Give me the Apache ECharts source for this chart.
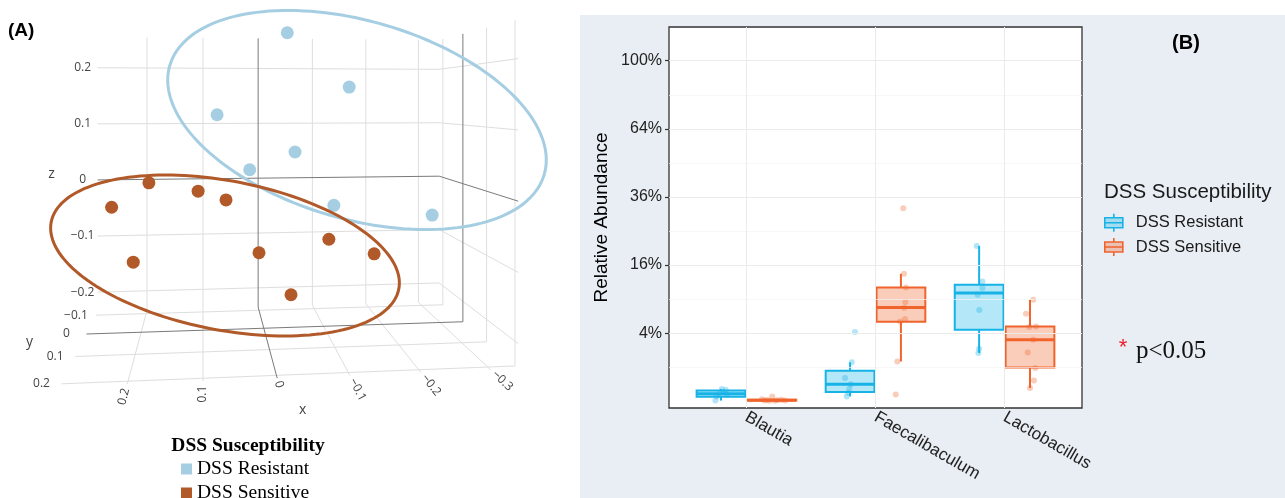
<!DOCTYPE html>
<html><head><meta charset="utf-8">
<script src="https://cdn.jsdelivr.net/npm/echarts@6/dist/echarts.min.js"></script>
<style>html,body{margin:0;padding:0;background:#fff}#c{width:1285px;height:498px}</style>
</head><body><div id="c"></div>
<script>
// ================= Panel A data (3D PCoA coordinates) =================
const groupNames = ['DSS Resistant', 'DSS Sensitive'];
const resistant3d = [
  [-0.027, 0.10, 0.244], [-0.154, -0.05, 0.165], [0.078, 0.05, 0.119], [-0.052, 0.00, 0.056],
  [0.030, 0.10, 0.037], [-0.108, 0.05, -0.026], [-0.303, -0.05, -0.061]
];
const sensitive3d = [
  [0.180, 0.10, 0.019], [0.228, 0.15, -0.009], [0.108, 0.00, -0.007], [0.064, 0.05, -0.015],
  [0.198, 0.15, -0.087], [0.008, 0.00, -0.110], [-0.039, 0.05, -0.167], [-0.118, -0.05, -0.100],
  [-0.186, 0.00, -0.116]
];
const xTicks3d = [-0.3, -0.2, -0.1, 0, 0.1, 0.2];
const yTicks3d = [-0.1, 0, 0.1, 0.2];
const zTicks3d = [-0.2, -0.1, 0, 0.1, 0.2];
const xRange3d = [-0.34, 0.287];
const yRange3d = [-0.12, 0.21];
const zRange3d = [-0.235, 0.255];

// ================= Panel B data (relative abundance, %) =================
const categories = ['Blautia', 'Faecalibaculum', 'Lactobacillus'];
const yTickValues = [4, 16, 36, 64, 100];
const yTickLabels = ['4%', '16%', '36%', '64%', '100%'];
const yMinorValues = [1, 9, 25, 49, 81];
// [lower whisker, Q1, median, Q3, upper whisker]
const resistantBox = [[0.0003, 0.017, 0.048, 0.10, 0.13], [0.02, 0.073, 0.25, 0.80, 1.30], [2.0, 4.40, 10.08, 11.69, 20.8]];
const sensitiveBox = [[0.0001, 0.0003, 0.0008, 0.002, 0.003], [1.36, 5.44, 7.57, 11.15, 14.0], [0.15, 0.98, 3.26, 4.82, 8.87]];
const resistantValues = [
  [0.13, 0.11, 0.07, 0.05, 0.035, 0.02, 0.0003],
  [4.12, 1.30, 0.46, 0.25, 0.128, 0.058, 0.020],
  [20.8, 12.36, 11.03, 9.77, 7.16, 2.37, 2.0]
];
const sensitiveValues = [
  [0.02, 0.003, 0.002, 0.001, 0.0008, 0.0005, 0.0003, 0.0002, 0.0001],
  [32.1, 14.0, 11.15, 8.47, 7.52, 5.82, 5.49, 1.36, 0.04],
  [8.87, 6.59, 4.74, 4.82, 3.26, 2.05, 0.95, 0.37, 0.15]
];
const resistantJitter = [
  [-0.19, -0.16, -0.17, -0.21, -0.15, -0.23, -0.24],
  [-0.159, -0.184, -0.236, -0.192, -0.203, -0.211, -0.223],
  [-0.216, -0.172, -0.172, -0.208, -0.196, -0.198, -0.203]
];
const sensitiveJitter = [
  [0.20, 0.12, 0.27, 0.16, 0.24, 0.30, 0.14, 0.22, 0.18],
  [0.215, 0.221, 0.236, 0.231, 0.223, 0.229, 0.19, 0.169, 0.157],
  [0.223, 0.166, 0.192, 0.244, 0.223, 0.179, 0.238, 0.228, 0.197]
];
const significantCategories = [0, 1, 2];
const significanceLevel = 54; // % height where * is drawn

// ================= Panel A: camera projection =================
const cam = { f: 700, yaw: 0.1002, Xv: 273.4, Yv: 101.4, ex: 0.1, ey: 1.153, ez: 0.14 };
function proj(p) {
  const c = Math.cos(cam.yaw), s = Math.sin(cam.yaw);
  const u = -(p[0] - cam.ex), w = cam.ey - p[1];
  const right = u * c - w * s, depth = u * s + w * c;
  return [cam.Xv + cam.f * right / depth, cam.Yv - cam.f * (p[2] - cam.ez) / depth];
}
const [X0, X1] = xRange3d, [Y0, Y1] = yRange3d, [Z0, Z1] = zRange3d;
const segs = [];
function addSeg(a, b, zero) { const p = proj(a), q = proj(b); segs.push([p[0], p[1], q[0], q[1], zero ? 1 : 0]); }
xTicks3d.forEach(x => { addSeg([x, Y0, Z0], [x, Y0, Z1], x === 0); addSeg([x, Y0, Z0], [x, Y1, Z0], x === 0); });
zTicks3d.forEach(z => { addSeg([X0, Y0, z], [X1, Y0, z], z === 0); addSeg([X0, Y0, z], [X0, Y1, z], z === 0); });
yTicks3d.forEach(y => { addSeg([X0, y, Z0], [X1, y, Z0], y === 0); addSeg([X0, y, Z0], [X0, y, Z1], y === 0); });
segs.sort((a, b) => a[4] - b[4]);

const fmt = v => v === 0 ? '0' : (v < 0 ? '\u2212' : '') + String(Math.abs(v));
const aLabels = [];
zTicks3d.forEach(z => { const p = proj([X1, Y0, z]); aLabels.push({ t: fmt(z), x: p[0] - 15, y: p[1], r: 0 }); });
yTicks3d.forEach(y => { const p = proj([X1, y, Z0]); aLabels.push({ t: fmt(y), x: p[0] - 20, y: p[1], r: 0 }); });
xTicks3d.forEach(x => {
  const f = proj([x, Y1, Z0]), b = proj([x, Y0, Z0]);
  let vx = f[0] - b[0], vy = f[1] - b[1]; const L = Math.hypot(vx, vy); vx /= L; vy /= L;
  let a = Math.atan2(vy, vx);
  if (a > Math.PI / 2) a -= Math.PI; if (a < -Math.PI / 2) a += Math.PI;
  const t = fmt(x); const off = 3 + 3.3 * t.length;
  aLabels.push({ t, x: f[0] + vx * off, y: f[1] + vy * off, r: -a });
});
{ const p = proj([X1, Y0, (Z0 + Z1) / 2]); aLabels.push({ t: 'z', x: p[0] - 46, y: p[1], r: 0, title: true }); }
{ const p = proj([X1, (Y0 + Y1) / 2, Z0]); aLabels.push({ t: 'y', x: p[0] - 52, y: p[1] - 2, r: 0, title: true }); }
{ const p = proj([(X0 + X1) / 2, Y1, Z0]); aLabels.push({ t: 'x', x: p[0] + 6, y: p[1] + 33, r: 0, title: true }); }

// group ellipses (annotation outlines drawn on the projected view)
const annotationEllipses = [
  { cx: 357, cy: 120, rx: 195, ry: 99, angle: 16.2, color: '#a6cee3' },
  { cx: 225, cy: 255.5, rx: 177, ry: 74.5, angle: 10.9, color: '#b15928' }
];
function ellipsePts(e) {
  const pts = [], ph = e.angle * Math.PI / 180;
  for (let i = 0; i < 160; i++) {
    const t = i / 160 * 2 * Math.PI;
    const ax = e.rx * Math.cos(t), ay = e.ry * Math.sin(t);
    pts.push([e.cx + ax * Math.cos(ph) - ay * Math.sin(ph), e.cy + ax * Math.sin(ph) + ay * Math.cos(ph)]);
  }
  return pts;
}

// ================= Panel B helpers =================
const sq = v => Math.sqrt(v / 100);
const BOX_OFF = 0.197, BOX_W = 0.378;
const colRes = '#17b3e6', colSen = '#f0642c';
const fillRes = 'rgba(23,179,230,0.32)', fillSen = 'rgba(240,100,44,0.32)';
const ptRes = 'rgba(23,179,230,0.42)', ptSen = 'rgba(240,100,44,0.40)';

function boxRenderer(stroke, fill) {
  return function (params, api) {
    const x = api.value(0);
    const lo = api.coord([x, api.value(1)]), q1 = api.coord([x, api.value(2)]), md = api.coord([x, api.value(3)]),
      q3 = api.coord([x, api.value(4)]), hi = api.coord([x, api.value(5)]);
    const hw = api.size([BOX_W, 0])[0] / 2, cx = lo[0];
    return {
      type: 'group', children: [
        { type: 'line', shape: { x1: cx, y1: q3[1], x2: cx, y2: hi[1] }, style: { stroke, lineWidth: 2 } },
        { type: 'line', shape: { x1: cx, y1: q1[1], x2: cx, y2: lo[1] }, style: { stroke, lineWidth: 2 } },
        { type: 'rect', shape: { x: cx - hw, y: q3[1], width: 2 * hw, height: Math.max(q1[1] - q3[1], 0.5) }, style: { fill, stroke, lineWidth: 2 } },
        { type: 'line', shape: { x1: cx - hw, y1: md[1], x2: cx + hw, y2: md[1] }, style: { stroke, lineWidth: 3 } }
      ]
    };
  };
}
const boxIcon = 'path://M0,4L18,4L18,14L0,14Z M0,9L18,9 M9,0L9,4 M9,14L9,18';

const chart = echarts.init(document.getElementById('c'), null, { renderer: 'canvas' });
chart.setOption({
  animation: false,
  backgroundColor: '#ffffff',
  grid: [
    { left: 0, top: 0, width: 580, height: 498, show: false },
    { left: 669, top: 27, width: 413, height: 381, show: true, backgroundColor: '#ffffff', borderColor: '#333333', borderWidth: 1.3, z: 2 }
  ],
  xAxis: [
    { gridIndex: 0, type: 'value', min: 0, max: 580, show: false },
    {
      gridIndex: 1, type: 'value', min: 0.4, max: 3.6,
      axisLine: { show: false }, splitLine: { show: false },
      axisTick: { show: true, customValues: [1, 2, 3], length: 4, lineStyle: { color: '#333', width: 1.2 } },
      axisLabel: { customValues: [1, 2, 3], formatter: v => categories[Math.round(v) - 1] || '', rotate: -30, margin: 8, fontSize: 17, color: '#222', fontFamily: 'Liberation Sans' }
    }
  ],
  yAxis: [
    { gridIndex: 0, type: 'value', min: 0, max: 498, inverse: true, show: false },
    {
      gridIndex: 1, type: 'value', min: -0.02, max: 1.099,
      axisLine: { show: false }, splitLine: { show: false },
      axisTick: { show: true, customValues: yTickValues.map(sq), length: 4, lineStyle: { color: '#333', width: 1.2 } },
      axisLabel: {
        customValues: yTickValues.map(sq), margin: 7, fontSize: 16, color: '#222', fontFamily: 'Liberation Sans',
        formatter: v => { const i = yTickValues.findIndex(t => Math.abs(sq(t) - v) < 1e-6); return i >= 0 ? yTickLabels[i] : ''; }
      },
      name: 'Relative Abundance', nameLocation: 'middle', nameGap: 58,
      nameTextStyle: { fontSize: 19, color: '#000', fontFamily: 'Liberation Sans' }
    }
  ],
  legend: [
    {
      data: groupNames, orient: 'vertical', left: 181, top: 459, height: 120, padding: 0,
      itemWidth: 11, itemHeight: 11, itemGap: 4,
      icon: 'rect', selectedMode: false,
      textStyle: { fontFamily: 'Liberation Serif', fontSize: 19.5, color: '#000' }
    },
    {
      data: [
        { name: 'B:DSS Resistant', icon: boxIcon, itemStyle: { color: fillRes, borderColor: colRes, borderWidth: 1.6 } },
        { name: 'B:DSS Sensitive', icon: boxIcon, itemStyle: { color: fillSen, borderColor: colSen, borderWidth: 1.6 } }
      ],
      formatter: n => n.slice(2), orient: 'vertical', left: 1104, top: 213, padding: 0,
      itemWidth: 18, itemHeight: 18, itemGap: 4.6,
      selectedMode: false,
      textStyle: { fontFamily: 'Liberation Sans', fontSize: 16.5, color: '#1a1a1a', padding: [0, 0, 0, 8] }
    }
  ],
  graphic: [
    { type: 'rect', shape: { x: 580, y: 15, width: 705, height: 483 }, style: { fill: '#e9eef4' }, z: -10, silent: true },
    { type: 'text', x: 8, y: 31, style: { text: '(A)', font: 'bold 19px "Liberation Sans"', fill: '#000', textVerticalAlign: 'middle', verticalAlign: 'middle' }, z: 10 },
    { type: 'text', x: 1186, y: 43, style: { text: '(B)', font: 'bold 20px "Liberation Sans"', fill: '#000', textAlign: 'center', align: 'center', textVerticalAlign: 'middle', verticalAlign: 'middle' }, z: 10 },
    { type: 'text', x: 248, y: 446, style: { text: 'DSS Susceptibility', font: 'bold 19.5px "Liberation Serif"', fill: '#000', textAlign: 'center', align: 'center', textVerticalAlign: 'middle', verticalAlign: 'middle' }, z: 10 },
    { type: 'text', x: 1104, y: 192, style: { text: 'DSS Susceptibility', font: '20.5px "Liberation Sans"', fill: '#1a1a1a', textVerticalAlign: 'middle', verticalAlign: 'middle' }, z: 10 },
    { type: 'text', x: 1123, y: 348, style: { text: '*', font: '22px "Liberation Sans"', fill: '#ee1c25', textAlign: 'center', align: 'center', textVerticalAlign: 'middle', verticalAlign: 'middle' }, z: 10 },
    { type: 'text', x: 1136, y: 351, style: { text: 'p<0.05', font: '25px "Liberation Serif"', fill: '#111', textVerticalAlign: 'middle', verticalAlign: 'middle' }, z: 10 },
    ...annotationEllipses.map(e => ({ type: 'polygon', shape: { points: ellipsePts(e) }, style: { fill: 'none', stroke: e.color, lineWidth: 3 }, z: 20, silent: true }))
  ],
  series: [
    // ---- panel A ----
    {
      type: 'custom', name: 'grid3d', xAxisIndex: 0, yAxisIndex: 0, data: segs, silent: true, clip: false, z: 1,
      renderItem: (p, api) => {
        const a = api.coord([api.value(0), api.value(1)]), b = api.coord([api.value(2), api.value(3)]);
        const zero = api.value(4) === 1;
        return { type: 'line', shape: { x1: a[0], y1: a[1], x2: b[0], y2: b[1] }, style: { stroke: zero ? '#7a7a7a' : '#dedede', lineWidth: 1 } };
      }
    },
    {
      type: 'custom', name: 'labels3d', xAxisIndex: 0, yAxisIndex: 0, data: aLabels.map(l => [l.x, l.y]), silent: true, clip: false, z: 1,
      renderItem: (p, api) => {
        const l = aLabels[p.dataIndex]; const c = api.coord([api.value(0), api.value(1)]);
        return {
          type: 'text', x: c[0], y: c[1], rotation: l.r,
          style: { text: l.t, fill: '#444', font: (l.title ? '14px' : '12px') + ' "Open Sans"', textAlign: 'center', align: 'center', textVerticalAlign: 'middle', verticalAlign: 'middle' }
        };
      }
    },
    { type: 'scatter', name: groupNames[0], xAxisIndex: 0, yAxisIndex: 0, data: resistant3d.map(proj), symbolSize: 13, itemStyle: { color: '#a6cee3', opacity: 1 }, z: 3 },
    { type: 'scatter', name: groupNames[1], xAxisIndex: 0, yAxisIndex: 0, data: sensitive3d.map(proj), symbolSize: 13, itemStyle: { color: '#b15928', opacity: 1 }, z: 3 },
    // ---- panel B ----
    {
      type: 'scatter', name: 'significance', xAxisIndex: 1, yAxisIndex: 1, z: 1,
      data: significantCategories.map(i => [i + 1, sq(significanceLevel)]),
      symbolSize: 1, itemStyle: { color: 'rgba(0,0,0,0)' },
      label: { show: true, position: 'inside', formatter: '*', color: '#ee1c25', fontSize: 22, fontFamily: 'Liberation Sans', offset: [0, 6] },
      markLine: {
        silent: true, symbol: ['none', 'none'], label: { show: false }, animation: false,
        data: [
          ...yMinorValues.map(v => ({ yAxis: sq(v), lineStyle: { color: '#f3f3f3', width: 0.7, type: 'solid' } })),
          ...yTickValues.map(v => ({ yAxis: sq(v), lineStyle: { color: '#ebebeb', width: 1, type: 'solid' } })),
          ...categories.map((c, i) => ({ xAxis: i + 1, lineStyle: { color: '#ebebeb', width: 1, type: 'solid' } }))
        ]
      }
    },
    {
      type: 'custom', name: 'B:DSS Resistant', xAxisIndex: 1, yAxisIndex: 1, z: 2, itemStyle: { color: colRes },
      encode: { x: 0, y: [1, 2, 3, 4, 5] },
      data: resistantBox.map((b, i) => [i + 1 - BOX_OFF, ...b.map(sq)]),
      renderItem: boxRenderer(colRes, fillRes)
    },
    {
      type: 'custom', name: 'B:DSS Sensitive', xAxisIndex: 1, yAxisIndex: 1, z: 2, itemStyle: { color: colSen },
      encode: { x: 0, y: [1, 2, 3, 4, 5] },
      data: sensitiveBox.map((b, i) => [i + 1 + BOX_OFF, ...b.map(sq)]),
      renderItem: boxRenderer(colSen, fillSen)
    },
    {
      type: 'scatter', name: 'resistant samples', xAxisIndex: 1, yAxisIndex: 1, z: 3, symbolSize: 6,
      itemStyle: { color: ptRes },
      data: resistantValues.flatMap((arr, i) => arr.map((v, j) => [i + 1 + resistantJitter[i][j], sq(v)]))
    },
    {
      type: 'scatter', name: 'sensitive samples', xAxisIndex: 1, yAxisIndex: 1, z: 3, symbolSize: 6,
      itemStyle: { color: ptSen },
      data: sensitiveValues.flatMap((arr, i) => arr.map((v, j) => [i + 1 + sensitiveJitter[i][j], sq(v)]))
    }
  ]
});
</script></body></html>
